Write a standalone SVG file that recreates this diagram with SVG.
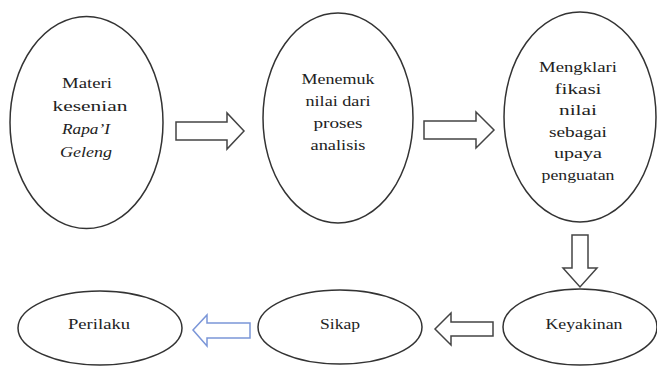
<svg xmlns="http://www.w3.org/2000/svg" width="657" height="367" viewBox="0 0 657 367">
<style>
.n{fill:#fff;stroke:#333;stroke-width:1.5}
text{font-family:'Liberation Serif','DejaVu Serif',serif;font-size:15.5px;fill:#222;text-anchor:middle}
.i{font-style:italic}
.a{fill:#fff;stroke:#444;stroke-width:1.5;stroke-linejoin:miter}
.b{fill:#fff;stroke:#7b96d8;stroke-width:1.5}
</style>
<rect width="657" height="367" fill="#fff"/>
<g id="connectors">
<polygon class="a" points="176,122 227,122 227,113 244,131 227,149 227,140 176,140"/>
<polygon class="a" points="424,121 476,121 476,112 494,130 476,148 476,139 424,139"/>
<polygon class="a" points="572,235 588,235 588,268 597,268 580,287 563,268 572,268"/>
<polygon class="a" points="493,322 451,322 451,313 435,329 451,345 451,336 493,336"/>
<polygon class="b" points="250,323 207,323 207,315 193,330 207,346 207,338 250,338"/>
</g>
<g id="node-materi">
<ellipse class="n" cx="86.5" cy="122.5" rx="76.5" ry="106"/>
<text x="87" y="88" textLength="50" lengthAdjust="spacingAndGlyphs">Materi</text>
<text x="90" y="111" textLength="75" lengthAdjust="spacingAndGlyphs">kesenian</text>
<text class="i" x="86" y="134" textLength="48" lengthAdjust="spacingAndGlyphs">Rapa’I</text>
<text class="i" x="86" y="157" textLength="52" lengthAdjust="spacingAndGlyphs">Geleng</text>
</g>
<g id="node-menemuk">
<ellipse class="n" cx="338" cy="118" rx="75" ry="105"/>
<text x="338" y="84" textLength="73" lengthAdjust="spacingAndGlyphs">Menemuk</text>
<text x="338" y="106" textLength="65" lengthAdjust="spacingAndGlyphs">nilai dari</text>
<text x="338" y="128" textLength="49" lengthAdjust="spacingAndGlyphs">proses</text>
<text x="338" y="150" textLength="55" lengthAdjust="spacingAndGlyphs">analisis</text>
</g>
<g id="node-mengklari">
<ellipse class="n" cx="580" cy="117" rx="76" ry="105"/>
<text x="578" y="72" textLength="78" lengthAdjust="spacingAndGlyphs">Mengklari</text>
<text x="578" y="93.5" textLength="47" lengthAdjust="spacingAndGlyphs">fikasi</text>
<text x="578" y="115" textLength="38" lengthAdjust="spacingAndGlyphs">nilai</text>
<text x="578" y="136.5" textLength="58" lengthAdjust="spacingAndGlyphs">sebagai</text>
<text x="578" y="158" textLength="48" lengthAdjust="spacingAndGlyphs">upaya</text>
<text x="578" y="179.5" textLength="73" lengthAdjust="spacingAndGlyphs">penguatan</text>
</g>
<g id="node-keyakinan">
<ellipse class="n" cx="580" cy="327" rx="77" ry="38"/>
<text x="584" y="329" textLength="77" lengthAdjust="spacingAndGlyphs">Keyakinan</text>
</g>
<g id="node-sikap">
<ellipse class="n" cx="340" cy="327" rx="82" ry="37"/>
<text x="340" y="329" textLength="40" lengthAdjust="spacingAndGlyphs">Sikap</text>
</g>
<g id="node-perilaku">
<ellipse class="n" cx="100" cy="328" rx="82" ry="37"/>
<text x="99" y="329" textLength="62" lengthAdjust="spacingAndGlyphs">Perilaku</text>
</g>
</svg>
